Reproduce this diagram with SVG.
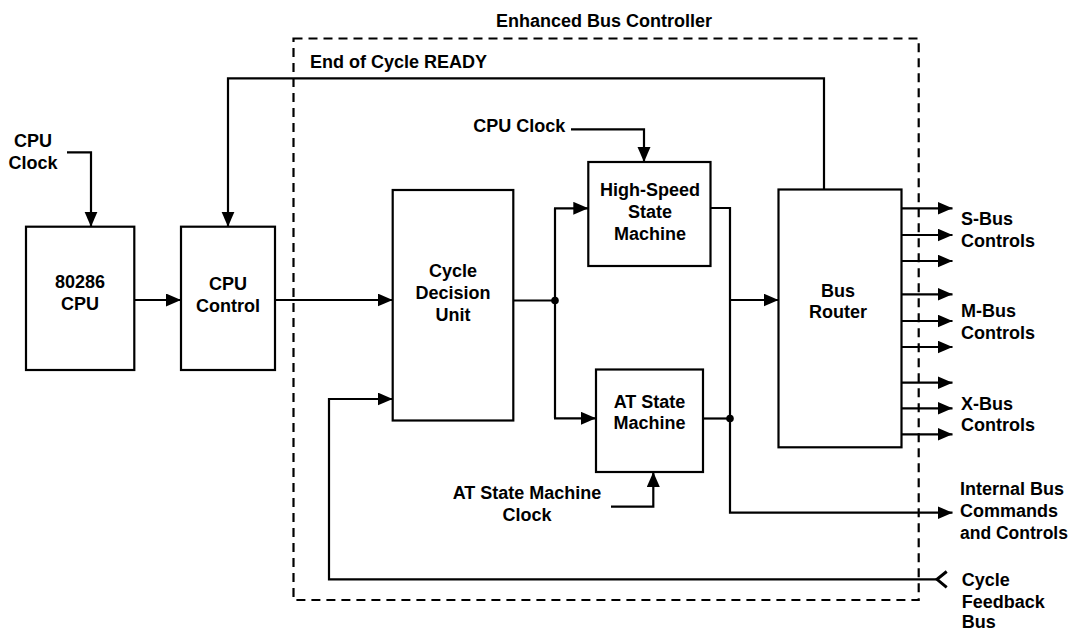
<svg xmlns="http://www.w3.org/2000/svg" width="1072" height="631" viewBox="0 0 1072 631">
<defs>
<style>
text{font-family:"Liberation Sans",Arial,sans-serif;font-weight:bold;font-size:18px;fill:#000}
.c{text-anchor:middle}
.box{fill:#fff;stroke:#000;stroke-width:2.2}
.w{fill:none;stroke:#000;stroke-width:2.2}
.dash{fill:none;stroke:#000;stroke-width:2.2;stroke-dasharray:9 6}
</style>
<marker id="ah" markerUnits="userSpaceOnUse" markerWidth="16" markerHeight="14" refX="15" refY="6.5" orient="auto">
<path d="M0,0 L15,6.5 L0,13 z" fill="#000"/>
</marker>
</defs>
<rect width="1072" height="631" fill="#fff"/>

<g id="enhanced-bus-controller">
<rect class="dash" x="293.5" y="38.5" width="625.2" height="561.5"/>
<text x="496" y="27.3">Enhanced Bus Controller</text>
</g>

<g id="connectors">
<!-- CPU clock to 80286 -->
<polyline class="w" points="67,152.3 91,152.3 91,226.7" marker-end="url(#ah)"/>
<!-- 80286 to CPU control -->
<line class="w" x1="134.3" y1="300" x2="181" y2="300" marker-end="url(#ah)"/>
<!-- CPU control to cycle decision -->
<line class="w" x1="275" y1="300" x2="392.7" y2="300" marker-end="url(#ah)"/>
<!-- End of cycle READY -->
<polyline class="w" points="824,189.5 824,78.3 228,78.3 228,226.7" marker-end="url(#ah)"/>
<!-- cycle decision out -->
<line class="w" x1="513.3" y1="300.5" x2="555" y2="300.5"/>
<line class="w" x1="555" y1="208.3" x2="555" y2="418.3"/>
<line class="w" x1="554" y1="208.3" x2="588.3" y2="208.3" marker-end="url(#ah)"/>
<line class="w" x1="554" y1="418.3" x2="596" y2="418.3" marker-end="url(#ah)"/>
<circle cx="555" cy="300.5" r="3.8" fill="#000"/>
<!-- CPU clock to high speed -->
<polyline class="w" points="571,129.3 644,129.3 644,162" marker-end="url(#ah)"/>
<!-- high speed out -->
<polyline class="w" points="710.5,208 730,208 730,512.7 952.5,512.7" marker-end="url(#ah)"/>
<line class="w" x1="730" y1="300" x2="778.5" y2="300" marker-end="url(#ah)"/>
<line class="w" x1="703" y1="418.5" x2="730" y2="418.5"/>
<circle cx="730" cy="418.5" r="3.8" fill="#000"/>
<!-- AT state machine clock -->
<polyline class="w" points="611,506.7 653.3,506.7 653.3,472" marker-end="url(#ah)"/>
<!-- bus router outputs -->
<line class="w" x1="901.5" y1="208.3" x2="952.5" y2="208.3" marker-end="url(#ah)"/>
<line class="w" x1="901.5" y1="235" x2="952.5" y2="235" marker-end="url(#ah)"/>
<line class="w" x1="901.5" y1="261" x2="952.5" y2="261" marker-end="url(#ah)"/>
<line class="w" x1="901.5" y1="294.3" x2="952.5" y2="294.3" marker-end="url(#ah)"/>
<line class="w" x1="901.5" y1="321" x2="952.5" y2="321" marker-end="url(#ah)"/>
<line class="w" x1="901.5" y1="347" x2="952.5" y2="347" marker-end="url(#ah)"/>
<line class="w" x1="901.5" y1="382.7" x2="952.5" y2="382.7" marker-end="url(#ah)"/>
<line class="w" x1="901.5" y1="408.3" x2="952.5" y2="408.3" marker-end="url(#ah)"/>
<line class="w" x1="901.5" y1="434.3" x2="952.5" y2="434.3" marker-end="url(#ah)"/>
<!-- cycle feedback bus -->
<polyline class="w" points="937,579.3 329,579.3 329,399 392.7,399" marker-end="url(#ah)"/>
<polyline fill="none" stroke="#000" stroke-width="3" points="946.7,571.5 937,579.3 946.7,587.3"/>
</g>

<g id="cpu-clock-label">
<text class="c" x="33" y="146.7">CPU</text>
<text class="c" x="33" y="169">Clock</text>
</g>

<g id="cpu-80286">
<rect class="box" x="26" y="226.7" width="108.3" height="143.3"/>
<text class="c" x="80" y="288">80286</text>
<text class="c" x="80" y="309.5">CPU</text>
</g>

<g id="cpu-control">
<rect class="box" x="181" y="226.7" width="94" height="143.3"/>
<text class="c" x="228" y="290">CPU</text>
<text class="c" x="228" y="311.5">Control</text>
</g>

<g id="end-of-cycle-ready-label">
<text x="310" y="67.7">End of Cycle READY</text>
</g>

<g id="cycle-decision-unit">
<rect class="box" x="392.7" y="190" width="120.6" height="230.5"/>
<text class="c" x="453" y="276.7">Cycle</text>
<text class="c" x="453" y="299">Decision</text>
<text class="c" x="453" y="321">Unit</text>
</g>

<g id="inner-cpu-clock-label">
<text x="473.3" y="132.3">CPU Clock</text>
</g>

<g id="high-speed-state-machine">
<rect class="box" x="588.3" y="162" width="122.2" height="104"/>
<text class="c" x="650" y="196">High-Speed</text>
<text class="c" x="650" y="217.7">State</text>
<text class="c" x="650" y="240">Machine</text>
</g>

<g id="at-state-machine">
<rect class="box" x="596" y="369.5" width="107" height="102.5"/>
<text class="c" x="649.5" y="408.3">AT State</text>
<text class="c" x="649.5" y="429.3">Machine</text>
</g>

<g id="at-clock-label">
<text class="c" x="527" y="499.3">AT State Machine</text>
<text class="c" x="527" y="521">Clock</text>
</g>

<g id="bus-router">
<rect class="box" x="778.5" y="189.5" width="123" height="257.8"/>
<text class="c" x="838" y="296.7">Bus</text>
<text class="c" x="838" y="318.3">Router</text>
</g>

<g id="s-bus-label">
<text x="961" y="225">S-Bus</text>
<text x="961" y="246.7">Controls</text>
</g>
<g id="m-bus-label">
<text x="961" y="317.3">M-Bus</text>
<text x="961" y="339.3">Controls</text>
</g>
<g id="x-bus-label">
<text x="961" y="410">X-Bus</text>
<text x="961" y="431">Controls</text>
</g>
<g id="internal-bus-label">
<text x="960" y="495">Internal Bus</text>
<text x="960" y="516.7">Commands</text>
<text x="960" y="539" style="font-size:17.5px">and Controls</text>
</g>
<g id="cycle-feedback-bus-label">
<text x="961.7" y="586">Cycle</text>
<text x="961.7" y="608.3">Feedback</text>
<text x="961.7" y="628.3">Bus</text>
</g>
</svg>
